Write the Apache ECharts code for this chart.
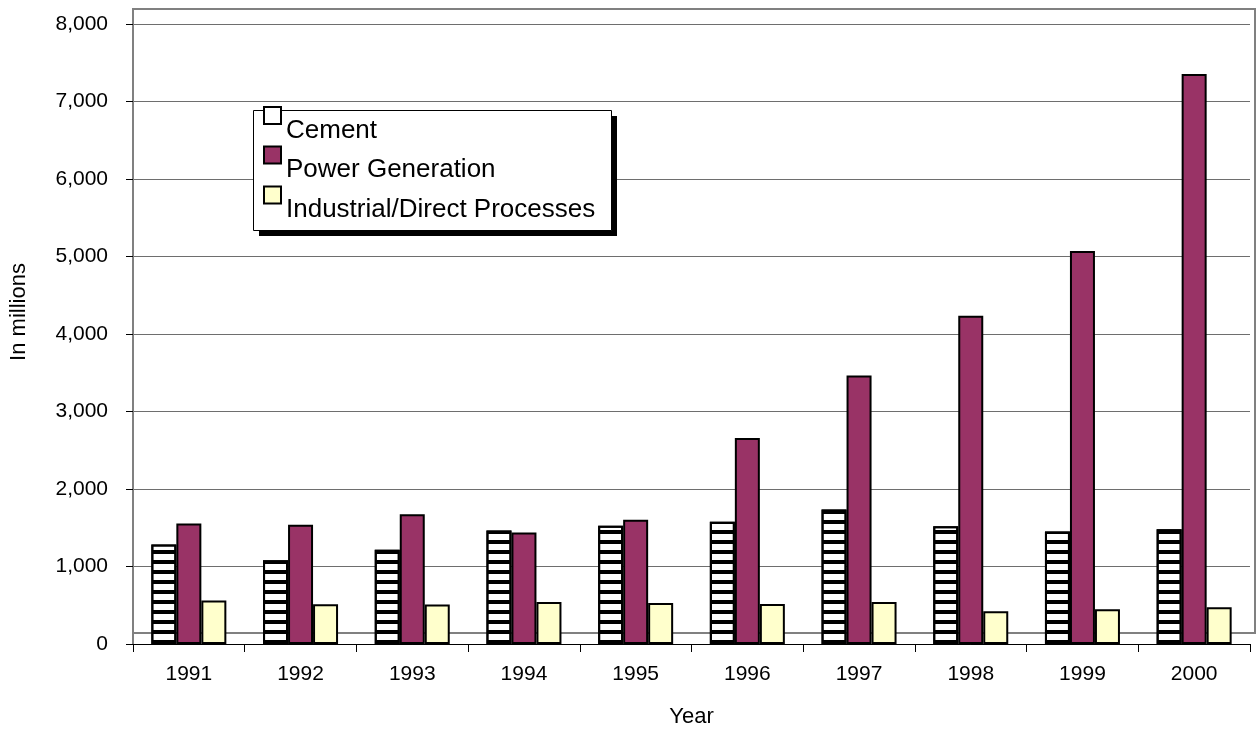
<!DOCTYPE html>
<html>
<head>
<meta charset="utf-8">
<script src="https://cdn.jsdelivr.net/npm/echarts@6/dist/echarts.min.js"></script>
<style>html,body{margin:0;padding:0;background:#fff;overflow:hidden}#c{width:1260px;height:733px}</style>
</head>
<body>
<div id="c"></div>
<script>
const years = ['1991','1992','1993','1994','1995','1996','1997','1998','1999','2000'];
const cement = [1285, 1080, 1215, 1465, 1525, 1578, 1737, 1520, 1452, 1481];
const power = [1554, 1538, 1673, 1440, 1604, 2658, 3465, 4235, 5070, 7355];
const industrial = [562, 512, 510, 542, 530, 515, 542, 424, 450, 474];
const yTicks = [0, 1000, 2000, 3000, 4000, 5000, 6000, 7000, 8000];
const seriesNames = ['Cement', 'Power Generation', 'Industrial/Direct Processes'];

const FONT = "'Liberation Sans', Arial, sans-serif";
const chart = echarts.init(document.getElementById('c'));
const border = { borderColor: '#000', borderWidth: 2 };
const iconCenters = [115.5, 155, 195];

chart.setOption({
  animation: false,
  textStyle: { fontFamily: FONT, color: '#000' },
  grid: { left: 133, width: 1117, top: 24, height: 623 },
  graphic: [
    { type: 'rect', z: 0, silent: true, shape: { x: 133, y: 9, width: 1122, height: 624 }, style: { fill: 'none', stroke: '#808080', lineWidth: 2 } },
    { type: 'rect', z: 5, silent: true, shape: { x: 259, y: 116, width: 358, height: 120 }, style: { fill: '#000' } },
    { type: 'rect', z: 5, silent: true, shape: { x: 253.5, y: 110.5, width: 358, height: 120 }, style: { fill: '#fff', stroke: '#000', lineWidth: 1 } },
    { type: 'text', z: 5, x: 19, y: 312, rotation: Math.PI / 2,
      style: { text: 'In millions', font: "22px 'Liberation Sans', Arial, sans-serif", fill: '#000', align: 'center', verticalAlign: 'middle' } }
  ],
  legend: seriesNames.map((n, i) => ({
    z: 10,
    orient: 'vertical',
    left: 263,
    top: iconCenters[i] - 30,
    padding: 0,
    itemWidth: 17,
    itemHeight: 17,
    icon: 'rect',
    formatter: name => '\n' + name,
    textStyle: { fontSize: 26, lineHeight: 30, fontFamily: FONT, color: '#000' },
    data: [{ name: n, itemStyle: { decal: 'none', color: i === 0 ? '#fff' : undefined } }]
  })),
  xAxis: {
    type: 'category',
    data: years,
    name: 'Year',
    nameLocation: 'middle',
    nameGap: 62,
    nameTextStyle: { fontSize: 22, fontFamily: FONT, color: '#000' },
    axisLine: { lineStyle: { color: '#000', width: 1 } },
    axisTick: { show: true, length: 8, lineStyle: { color: '#000' } },
    axisLabel: { fontSize: 21, margin: 20, color: '#000', fontFamily: FONT }
  },
  yAxis: {
    type: 'value',
    min: 0,
    max: 8000,
    interval: 1000,
    axisLine: { show: true, lineStyle: { color: '#808080', width: 2 } },
    axisTick: { show: true, length: 7, lineStyle: { color: '#000' } },
    axisLabel: { fontSize: 21, margin: 25, color: '#000', fontFamily: FONT,
      formatter: v => yTicks.includes(v) ? v.toLocaleString('en-US') : '' },
    splitLine: { show: true, lineStyle: { color: '#6e6e6e', width: 1.2 } }
  },
  series: [
    { name: seriesNames[0], type: 'bar', data: cement, barWidth: 25, barGap: '0%',
      itemStyle: Object.assign({ color: '#fff',
        decal: { symbol: 'rect', symbolSize: 1, dashArrayX: [1, 0], dashArrayY: [4, 6], rotation: 0, color: '#000' } }, border) },
    { name: seriesNames[1], type: 'bar', data: power, barWidth: 25, barGap: '0%',
      itemStyle: Object.assign({ color: '#993366' }, border) },
    { name: seriesNames[2], type: 'bar', data: industrial, barWidth: 25, barGap: '0%',
      itemStyle: Object.assign({ color: '#FFFFCC' }, border) }
  ]
});
</script>
</body>
</html>
